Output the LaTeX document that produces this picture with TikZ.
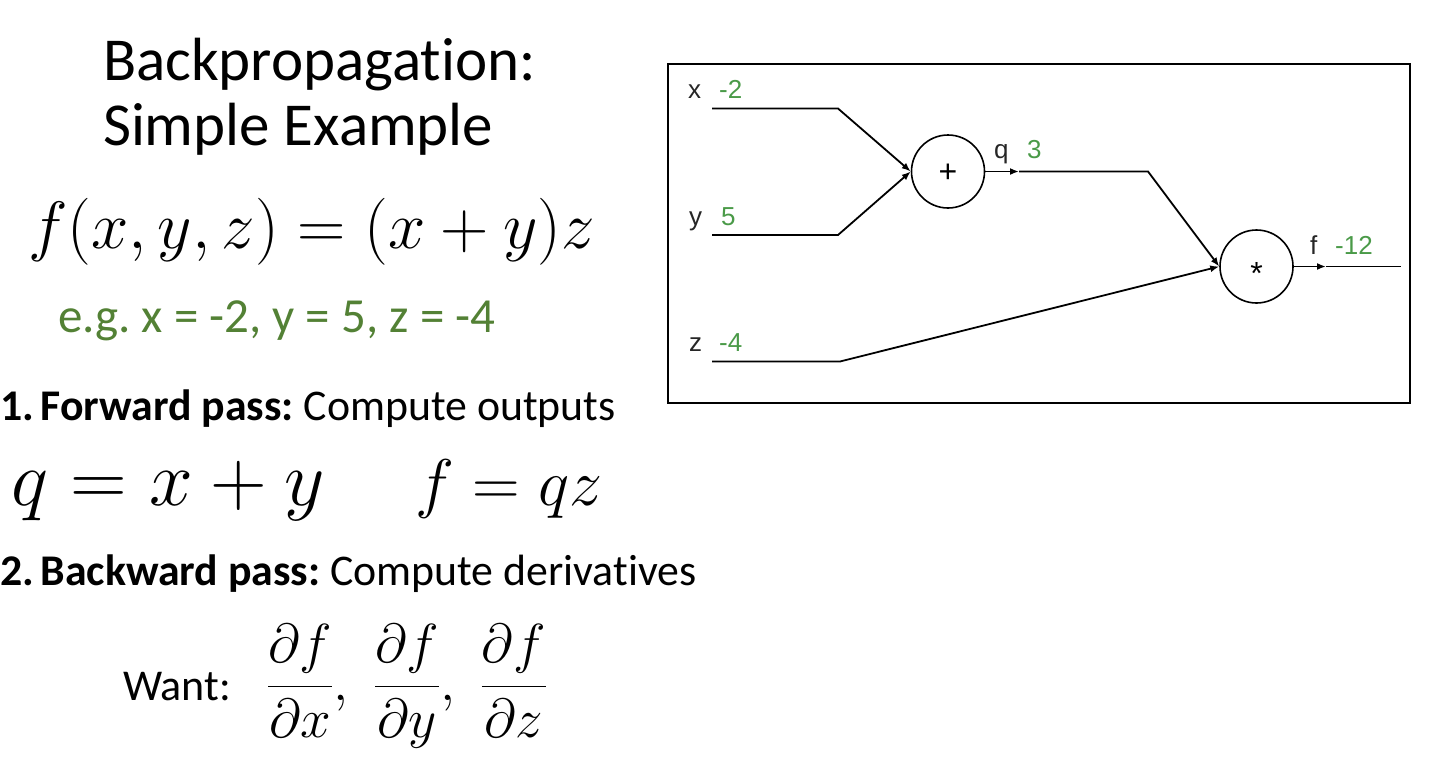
\documentclass[tikz,border=0pt]{standalone}
\usepackage{fix-cm}
\usepackage[no-math]{fontspec}
\setmainfont[Ligatures=NoCommon]{Carlito}
\newfontfamily\gfont{Liberation Sans}
\usetikzlibrary{arrows.meta}
\definecolor{egreen}{HTML}{538135}
\definecolor{vgreen}{HTML}{4A9A48}
\frenchspacing
\newcommand{\tightnum}[1]{{\spaceskip=0.14em\relax #1}}
\tikzset{
  txt/.style={anchor=base west, inner sep=0pt, outer sep=0pt},
  gate/.style={circle, draw, line width=1.6pt, minimum size=73pt, inner sep=0pt, font=\gfont\fontsize{32}{34}\selectfont},
  wire/.style={line width=1.8pt},
  arr/.style={wire, -{Latex[length=9pt,width=7pt]}},
  lab/.style={anchor=base west, inner sep=0pt, font=\gfont\fontsize{26}{28}\selectfont, text=black!85},
  val/.style={lab, text=vgreen},
}
\begin{document}
\begin{tikzpicture}[x=1pt,y=-1pt]
\useasboundingbox (0,0) rectangle (1434,758);
% left text
\node[txt] (t1) at (103,80) {\fontsize{61}{65}\selectfont Backpropagation:};
\node[txt] (t2) at (103,145) {\fontsize{61}{65}\selectfont Simple Example};
\node[txt] (fx) at (28,248) {\fontsize{67}{70}\selectfont$f(x,y,z)=(x+y)z$};
\node[txt, text=egreen] (eg) at (58,332) {\fontsize{49}{52}\selectfont e.g. x = -2, y = 5, z = -4};
\node[txt] (fw) at (0.5,420) {\fontsize{43.8}{46}\selectfont\textbf{\tightnum{1. }Forward pass:} Compute outputs};
\node[txt] (q1) at (12,505) {\fontsize{78.5}{80}\selectfont$q=x+y$};
\node[txt] (q2) at (415,505) {\fontsize{66}{70}\selectfont$f=qz$};
\node[txt] (bw) at (0.5,585) {\fontsize{43.8}{46}\selectfont\textbf{\tightnum{2. }Backward pass:} Compute derivatives};
\node[txt] (want) at (123,700) {\fontsize{44}{46}\selectfont Want:};
\node[txt] (fr) at (267,700) {\fontsize{55}{58}\selectfont$\displaystyle\frac{\partial f}{\partial x},\hspace{0.3em}\frac{\partial f}{\partial y},\hspace{0.3em}\frac{\partial f}{\partial z}$};
% graph box
\draw[line width=1.2pt] (668,64) rectangle (1410,403);
\node[gate] (plus) at (948,171.5) {\smash{\raisebox{-10.5pt}{+}}};
\node[gate] (mult) at (1256.5,266.5) {\smash{\raisebox{-18pt}{*}}};
\coordinate (xs) at (712,108.5);
\coordinate (xb) at (838,108.5);
\coordinate (ys) at (712,235);
\coordinate (yb) at (838,235);
\coordinate (zs) at (712,361.5);
\coordinate (zb) at (840,361.5);
\coordinate (qa) at (1019,171.5);
\coordinate (qb) at (1148,171.5);
\coordinate (fa) at (1326,266.5);
\coordinate (fe) at (1401,266.5);
\draw[arr] (xs) -- (xb) -- (plus.west);
\draw[arr] (ys) -- (yb) -- (plus.west);
\draw[arr] (plus.east) -- (qa);
\draw[arr] (qa) -- (qb) -- (mult.west);
\draw[arr] (zs) -- (zb) -- (mult.west);
\draw[arr] (mult.east) -- (fa);
\draw[wire] (fa) -- (fe);
% labels
\node[lab] (lx) at (688,98) {x};
\node[val] (vx) at (719,98) {-2};
\node[lab] (ly) at (689,225) {y};
\node[val] (vy) at (721,225) {5};
\node[lab] (lz) at (689,351) {z};
\node[val] (vz) at (719,351) {-4};
\node[lab] (lq) at (994,158) {q};
\node[val] (vq) at (1027,158) {3};
\node[lab] (lf) at (1310,254) {f};
\node[val] (vf) at (1335,254) {-12};
\end{tikzpicture}
\end{document}
